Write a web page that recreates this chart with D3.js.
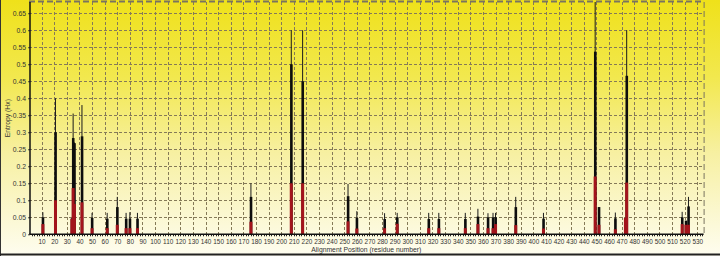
<!DOCTYPE html>
<html><head><meta charset="utf-8">
<script src="https://cdn.jsdelivr.net/npm/d3@7"></script>
<style>html,body{margin:0;padding:0;background:#fff;}svg{display:block;}</style>
</head><body>
<svg id="c" width="720" height="256"></svg>
<script>
const positions = [11,21,34,35,36,42,50,62,70,77,80,86,176,208,217,253,260,282,292,317,325,346,356,364,368,370,386,408,449,452,465,473,474,518,521,523];
const topValues = [0.065,0.40,0.047,0.355,0.27,0.38,0.063,0.063,0.11,0.063,0.065,0.063,0.15,0.60,0.60,0.148,0.068,0.062,0.063,0.063,0.063,0.063,0.075,0.062,0.063,0.063,0.11,0.063,0.70,0.08,0.064,0.048,0.60,0.066,0.04,0.11];
const midValues = [0.05,0.30,0.047,0.283,0.268,0.288,0.048,0.046,0.08,0.046,0.046,0.046,0.11,0.50,0.45,0.112,0.048,0.045,0.05,0.045,0.045,0.045,0.052,0.05,0.05,0.05,0.08,0.046,0.537,0.08,0.047,0.048,0.466,0.05,0.04,0.082];
const lowValues = [0.03,0.10,0.045,0.136,0.089,0.094,0.018,0.018,0.028,0.018,0.018,0.018,0.037,0.15,0.15,0.038,0.017,0.018,0.031,0.018,0.018,0.018,0.03,0.018,0.018,0.03,0.027,0.017,0.17,0.028,0.015,0.048,0.152,0.03,0.028,0.028];
const xTicks = d3.range(10, 531, 10);
const yTicks = [0,0.05,0.1,0.15,0.2,0.25,0.3,0.35,0.4,0.45,0.5,0.55,0.6,0.65];
const xTitle = "Alignment Position (residue number)";
const yTitle = "Entropy (Hx)";

const svg = d3.select("#c");
const W = 720, H = 256;
const L = 29, R = 703.6, T = 2, B = 234.3;
const FONT = "Liberation Sans, Arial, sans-serif";
const x = d3.scaleLinear().domain([0, 535]).range([L, R]);
const y = d3.scaleLinear().domain([0, 0.683]).range([B, T]);

const defs = svg.append("defs");
const g1 = defs.append("linearGradient").attr("id","bg").attr("x1",0).attr("y1",0).attr("x2",0).attr("y2",1);
g1.append("stop").attr("offset","0%").attr("stop-color","#efe11a");
g1.append("stop").attr("offset","30%").attr("stop-color","#f2e84e");
g1.append("stop").attr("offset","60%").attr("stop-color","#f7f0a2");
g1.append("stop").attr("offset","100%").attr("stop-color","#fefdf0");
defs.append("clipPath").attr("id","clip").append("rect").attr("x",L).attr("y",T).attr("width",R-L).attr("height",B-T);

svg.append("rect").attr("width",W).attr("height",H).attr("fill","url(#bg)");
svg.append("line").attr("x1",0.5).attr("x2",0.5).attr("y1",0).attr("y2",H).attr("stroke","#333").attr("stroke-width",1);
svg.append("line").attr("x1",0).attr("x2",W).attr("y1",H-1.5).attr("y2",H-1.5).attr("stroke","#222").attr("stroke-width",2);

// grid
const grid = svg.append("g").attr("stroke","#857a58").attr("stroke-width",1).attr("stroke-dasharray","3,2");
grid.selectAll(".vg").data(xTicks).join("line")
  .attr("x1",d=>Math.round(x(d))+0.5).attr("x2",d=>Math.round(x(d))+0.5).attr("y1",T).attr("y2",B);
grid.selectAll(".hg").data(yTicks.filter(d=>d>0)).join("line")
  .attr("x1",L).attr("x2",R).attr("y1",d=>Math.round(y(d))+0.5).attr("y2",d=>Math.round(y(d))+0.5);
svg.append("line").attr("x1",L).attr("x2",R).attr("y1",T-0.5).attr("y2",T-0.5).attr("stroke","#7a7460").attr("stroke-width",2).attr("stroke-dasharray","6,3");
svg.append("line").attr("x1",R+0.5).attr("x2",R+0.5).attr("y1",T).attr("y2",B).attr("stroke","#7a7460").attr("stroke-width",1).attr("stroke-dasharray","6,3");

// bars
const data = positions.map((p,i)=>({p, t:topValues[i], m:midValues[i], l:lowValues[i]}));
const bars = svg.append("g").attr("clip-path","url(#clip)");
bars.selectAll(".thin").data(data).join("line")
  .attr("x1",d=>x(d.p)).attr("x2",d=>x(d.p)).attr("y1",B).attr("y2",d=>y(d.t))
  .attr("stroke","#1a1a1a").attr("stroke-width",1);
bars.selectAll(".mid").data(data).join("rect")
  .attr("x",d=>x(d.p)-1.2).attr("width",2.6).attr("y",d=>y(d.m)).attr("height",d=>B-y(d.m))
  .attr("fill","#0d0d0d");
bars.selectAll(".low").data(data).join("rect")
  .attr("x",d=>x(d.p)-1.5).attr("width",3).attr("y",d=>y(d.l)).attr("height",d=>B-y(d.l))
  .attr("fill","#a3141c");

// axes
const xAxis = d3.axisBottom(x).tickValues(xTicks).tickSize(0).tickPadding(5).tickFormat(d3.format("d"));
const gx = svg.append("g").attr("transform",`translate(0,${B})`).call(xAxis);
gx.select(".domain").remove();
gx.selectAll("text").attr("font-family",FONT).attr("font-size",6.4).attr("fill","#333");
svg.append("g").selectAll("line").data(d3.range(2, 535, 2)).join("line")
  .attr("x1",d=>Math.round(x(d))+0.5).attr("x2",d=>Math.round(x(d))+0.5).attr("y1",B).attr("y2",B+2)
  .attr("stroke","#222").attr("stroke-width",1);
svg.append("line").attr("x1",L).attr("x2",R).attr("y1",B).attr("y2",B).attr("stroke","#111").attr("stroke-width",1.5);

const yAxis = d3.axisLeft(y).tickValues(yTicks).tickSize(2).tickPadding(2).tickFormat(d=>d===0?"0":d3.format("")(+d.toFixed(2)));
const gy = svg.append("g").attr("transform",`translate(${L+1},0)`).call(yAxis);
gy.select(".domain").remove();
gy.selectAll("line").attr("stroke","#444");
gy.selectAll("text").attr("font-family",FONT).attr("font-size",6.8).attr("fill","#333");
svg.append("line").attr("x1",L+1).attr("x2",L+1).attr("y1",T).attr("y2",B).attr("stroke","#111").attr("stroke-width",1.5);

svg.append("text").attr("x",(L+R)/2).attr("y",251.5).attr("text-anchor","middle")
  .attr("font-family",FONT).attr("font-size",6.8).attr("fill","#333").text(xTitle);
svg.append("text").attr("transform",`translate(10,${(T+B)/2}) rotate(-90)`).attr("text-anchor","middle")
  .attr("font-family",FONT).attr("font-size",6.8).attr("fill","#333").text(yTitle);
</script>
</body></html>
